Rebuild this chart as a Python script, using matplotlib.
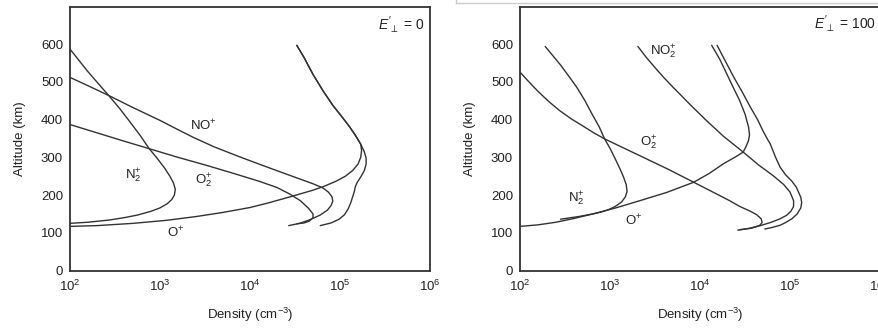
import matplotlib
matplotlib.use("Agg")
import matplotlib.pyplot as plt
from matplotlib.lines import Line2D

plt.rcParams['font.family'] = ['Liberation Sans', 'DejaVu Sans']
plt.rcParams['mathtext.fontset'] = 'custom'
plt.rcParams['mathtext.rm'] = 'Liberation Sans'
plt.rcParams['mathtext.it'] = 'Liberation Sans:italic'

# ion density profiles, (log10 density [cm^-3], altitude [km])
# E'perp = 0
n2_logn_a = [2.00, 2.10, 2.20, 2.32, 2.43, 2.55, 2.66, 2.78, 2.88, 2.97, 3.05, 3.11, 3.15, 3.17,
             3.16, 3.13, 3.08, 3.00, 2.90, 2.75, 2.60, 2.44, 2.20, 2.00]
n2_alt_a = [587, 557, 527, 494, 464, 430, 396, 358, 323, 297, 272, 250, 232, 215,
            200, 188, 177, 166, 157, 147, 140, 134, 128, 125]

no_logn_a = [2.00, 2.20, 2.43, 2.70, 3.00, 3.22, 3.37, 3.60, 3.90, 4.17, 4.48, 4.70, 4.81, 4.87,
             4.91, 4.92, 4.90, 4.86, 4.78, 4.66, 4.55, 4.43]
no_alt_a = [512, 490, 464, 432, 398, 371, 353, 328, 300, 276, 249, 230, 219, 208,
            196, 184, 172, 160, 147, 134, 125, 119]

o2_logn_a = [2.00, 2.30, 2.60, 2.88, 3.20, 3.50, 3.81, 4.11, 4.30, 4.44, 4.56, 4.65, 4.70, 4.70,
             4.66, 4.60, 4.52]
o2_alt_a = [387, 365, 343, 323, 300, 280, 258, 236, 220, 203, 185, 165, 150, 140,
            131, 126, 124]

op_logn_a = [2.00, 2.30, 2.70, 3.07, 3.40, 3.70, 4.00, 4.20, 4.47, 4.70, 4.81, 4.95, 5.06, 5.14,
             5.20, 5.23, 5.24, 5.23, 5.18, 5.11, 5.02, 4.92, 4.81, 4.70, 4.60, 4.52]
op_alt_a = [117, 119, 125, 133, 143, 154, 167, 179, 197, 213, 222, 236, 250, 265,
            282, 300, 318, 335, 355, 380, 408, 438, 477, 520, 565, 597]

ne_logn_a = [4.52, 4.60, 4.70, 4.81, 4.92, 5.02, 5.11, 5.18, 5.23, 5.27, 5.29, 5.29, 5.27, 5.23,
             5.19, 5.17, 5.16, 5.14, 5.12, 5.09, 5.05, 4.99, 4.90, 4.78]
ne_alt_a = [597, 565, 520, 477, 438, 408, 380, 355, 335, 315, 298, 282, 265, 248,
            233, 222, 210, 195, 180, 163, 148, 136, 126, 119]

# E'perp = 100
n2_logn_b = [2.28, 2.36, 2.45, 2.54, 2.63, 2.72, 2.80, 2.88, 2.94, 3.00, 3.05, 3.11, 3.15, 3.18,
             3.19, 3.17, 3.13, 3.06, 2.98, 2.90, 2.81, 2.65, 2.45]
n2_alt_b = [594, 571, 545, 516, 486, 451, 415, 381, 349, 324, 300, 270, 248, 228,
            210, 195, 182, 170, 161, 155, 150, 143, 136]

o2_logn_b = [2.00, 2.10, 2.20, 2.32, 2.44, 2.57, 2.70, 2.82, 2.94, 3.15, 3.37, 3.65, 3.93, 4.20,
             4.33, 4.44, 4.56, 4.63, 4.68, 4.69, 4.66, 4.57, 4.44]
o2_alt_b = [526, 500, 475, 448, 424, 402, 383, 365, 349, 325, 300, 268, 234, 201,
            185, 170, 157, 148, 137, 127, 119, 112, 108]

op_logn_b = [2.00, 2.20, 2.40, 2.60, 2.81, 3.05, 3.33, 3.63, 3.93, 4.10, 4.26, 4.40, 4.48, 4.51,
             4.54, 4.55, 4.54, 4.50, 4.44, 4.38, 4.30, 4.22, 4.13]
op_alt_b = [117, 121, 128, 138, 150, 165, 185, 207, 234, 257, 283, 302, 314, 328,
            345, 360, 380, 415, 451, 480, 520, 560, 597]

no_logn_b = [3.31, 3.40, 3.50, 3.60, 3.70, 3.80, 3.89, 4.07, 4.26, 4.48, 4.65, 4.81, 4.93, 5.00,
             5.04, 5.04, 5.01, 4.96, 4.88, 4.78, 4.67, 4.55, 4.42]
no_alt_b = [594, 566, 538, 511, 486, 462, 440, 398, 356, 314, 280, 252, 228, 208,
            185, 170, 157, 146, 136, 127, 119, 112, 107]

ne_logn_b = [4.19, 4.28, 4.37, 4.47, 4.56, 4.64, 4.70, 4.75, 4.78, 4.84, 4.89, 4.95, 5.02, 5.07,
             5.10, 5.12, 5.13, 5.12, 5.08, 5.02, 4.95, 4.89, 4.80, 4.72]
ne_alt_b = [597, 556, 515, 473, 433, 400, 370, 348, 336, 300, 274, 254, 237, 221,
            205, 194, 180, 166, 150, 137, 127, 120, 114, 110]

xticks = [1e2, 1e3, 1e4, 1e5, 1e6]
xticklabels = ['10$^{2}$', '10$^{3}$', '10$^{4}$', '10$^{5}$', '10$^{6}$']
yticks = [0, 100, 200, 300, 400, 500, 600]

ink = '#222222'
line_kw = dict(color='#333333', lw=1.0, solid_joinstyle='round', solid_capstyle='round')
txt_kw = dict(fontsize=9.5, color=ink, ha='center', va='center')

fig = plt.figure(figsize=(8.79, 3.28), dpi=100)
ax1 = fig.add_axes([70 / 879, 57.5 / 328, 360 / 879, 264 / 328])
ax2 = fig.add_axes([520 / 879, 57.5 / 328, 360 / 879, 264 / 328])


def lg(v):
    return [10 ** x for x in v]


ax1.plot(lg(n2_logn_a), n2_alt_a, **line_kw)
ax1.plot(lg(no_logn_a), no_alt_a, **line_kw)
ax1.plot(lg(o2_logn_a), o2_alt_a, **line_kw)
ax1.plot(lg(op_logn_a), op_alt_a, **line_kw)
ax1.plot(lg(ne_logn_a), ne_alt_a, **line_kw)

ax2.plot(lg(n2_logn_b), n2_alt_b, **line_kw)
ax2.plot(lg(o2_logn_b), o2_alt_b, **line_kw)
ax2.plot(lg(op_logn_b), op_alt_b, **line_kw)
ax2.plot(lg(no_logn_b), no_alt_b, **line_kw)
ax2.plot(lg(ne_logn_b), ne_alt_b, **line_kw)

ax1.text(10 ** 3.48, 384, r'NO$^{+}$', **txt_kw)
ax1.text(10 ** 2.70, 252, r'N$_2^{+}$', **txt_kw)
ax1.text(10 ** 3.48, 239, r'O$_2^{+}$', **txt_kw)
ax1.text(10 ** 3.17, 101, r'O$^{+}$', **txt_kw)
ax1.text(0.985, 0.93, r"$E'_{\!\perp}$ = 0", transform=ax1.transAxes,
         fontsize=10, color=ink, ha='right', va='center')

ax2.text(10 ** 3.59, 579, r'NO$_2^{+}$', **txt_kw)
ax2.text(10 ** 3.43, 340, r'O$_2^{+}$', **txt_kw)
ax2.text(10 ** 2.63, 190, r'N$_2^{+}$', **txt_kw)
ax2.text(10 ** 3.26, 133, r'O$^{+}$', **txt_kw)
ax2.text(0.99, 0.935, r"$E'_{\!\perp}$ = 100", transform=ax2.transAxes,
         fontsize=10, color=ink, ha='right', va='center')

for ax in (ax1, ax2):
    ax.set_xscale('log')
    ax.set_xlim(1e2, 1e6)
    ax.set_ylim(0, 700)
    ax.set_xticks(xticks)
    ax.set_xticklabels(xticklabels)
    ax.set_yticks(yticks)
    ax.minorticks_off()
    ax.tick_params(length=0, labelsize=9.5, labelcolor=ink)
    ax.tick_params(axis='x', pad=6)
    ax.tick_params(axis='y', pad=5)
    for s in ax.spines.values():
        s.set_color('#333333')
        s.set_linewidth(1.3)
    ax.set_xlabel('Density (cm$^{-3}$)', fontsize=9.5, color=ink)
    ax.set_ylabel('Altitude (km)', fontsize=9.5, color=ink)
    ax.xaxis.set_label_coords(0.5, -0.132)
    ax.yaxis.set_label_coords(-0.122, 0.5)

# page border around the second figure
fig.add_artist(Line2D([456 / 879, 1.0], [1 - 3 / 328, 1 - 3 / 328], color='#cccccc', lw=1.0))
fig.add_artist(Line2D([456 / 879, 456 / 879], [1 - 3 / 328, 1.0], color='#cccccc', lw=1.0))

fig.savefig('out.png', dpi=100)
